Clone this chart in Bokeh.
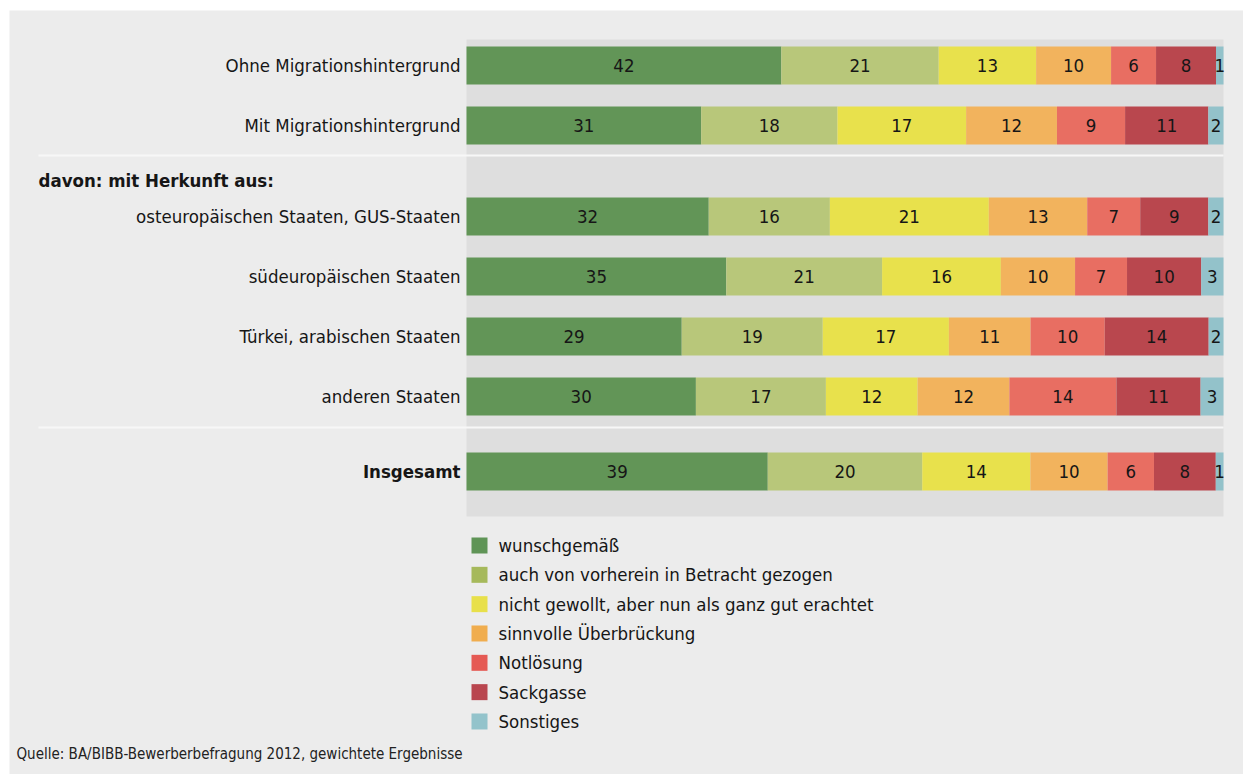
from bokeh.plotting import figure
from bokeh.models import Range1d, ColumnDataSource
from bokeh.core.properties import value
from bokeh.embed import file_html
from bokeh.resources import INLINE

# ---------------- data ----------------
groups = ["Ohne Migrationshintergrund", "Mit Migrationshintergrund",
          "osteuropäischen Staaten, GUS-Staaten", "südeuropäischen Staaten",
          "Türkei, arabischen Staaten", "anderen Staaten", "Insgesamt"]
categories = ["wunschgemäß", "auch von vorherein in Betracht gezogen",
              "nicht gewollt, aber nun als ganz gut erachtet",
              "sinnvolle Überbrückung", "Notlösung", "Sackgasse", "Sonstiges"]
wunschgemaess = [42, 31, 32, 35, 29, 30, 39]
auch_vorher   = [21, 18, 16, 21, 19, 17, 20]
nicht_gewollt = [13, 17, 21, 16, 17, 12, 14]
ueberbrueckung = [10, 12, 13, 10, 11, 12, 10]
notloesung    = [6, 9, 7, 7, 10, 14, 6]
sackgasse     = [8, 11, 9, 10, 14, 11, 8]
sonstiges     = [1, 2, 2, 3, 2, 3, 1]
series = [wunschgemaess, auch_vorher, nicht_gewollt, ueberbrueckung,
          notloesung, sackgasse, sonstiges]

bar_colors = ["#629557", "#b8c77a", "#e8e14c", "#f2b35d", "#e86e62", "#b9474e", "#93c2ca"]
legend_colors = ["#5f9456", "#a6b95b", "#e8e04a", "#f0ad4e", "#e55a54", "#b9464f", "#93c3cb"]

header_text = "davon: mit Herkunft aus:"
source_text = "Quelle: BA/BIBB-Bewerberbefragung 2012, gewichtete Ergebnisse"

# ---------------- layout (page pixels) ----------------
W, H = 1243, 774
PLOT_L, PLOT_R, PLOT_T, PLOT_B = 466, 1223, 39, 516
PX = (PLOT_R - PLOT_L) / 100.0
row_y = [65, 125, 216, 276, 336, 396, 471]
bold_rows = {"Insgesamt"}
BAR_H = 38
FONT = "DejaVu Sans Condensed"
FS = "18.5px"
TXT = "#161616"

p = figure(width=W, height=H, output_backend="svg", toolbar_location=None,
           x_range=Range1d((0 - PLOT_L) / PX, (W - PLOT_L) / PX),
           y_range=Range1d(H, 0),
           min_border=0, min_border_left=0, min_border_right=0,
           min_border_top=0, min_border_bottom=0)
p.extra_x_ranges = {"px": Range1d(0, W)}
p.xaxis.visible = False
p.yaxis.visible = False
p.grid.visible = False
p.outline_line_color = None
p.background_fill_color = "white"
p.border_fill_color = "white"

# panel background
p.quad(left=[9], right=[W], top=[10], bottom=[H], x_range_name="px",
       fill_color="#ececec", line_color=None)
# plot area background
p.quad(left=[0], right=[100], top=[PLOT_T], bottom=[PLOT_B],
       fill_color="#dedede", line_color=None)

# separators
for sy in [155, 427]:
    p.segment(x0=[38], x1=[PLOT_R], y0=[sy], y1=[sy], x_range_name="px",
              line_color="#f7f7f7", line_width=2)

# bars (normalised to 100 %)
totals = [sum(s[i] for s in series) for i in range(len(groups))]
left = [0.0] * len(groups)
for k, s in enumerate(series):
    widths = [s[i] / totals[i] * 100 for i in range(len(groups))]
    right = [left[i] + widths[i] for i in range(len(groups))]
    src = ColumnDataSource(dict(y=row_y, left=left, right=right,
                                mid=[(left[i] + right[i]) / 2 for i in range(len(groups))],
                                lab=[str(v) for v in s]))
    p.hbar(y="y", left="left", right="right", height=BAR_H, source=src,
           fill_color=bar_colors[k], line_color=None)
    p.text(x="mid", y="y", text="lab", source=src, text_align="center",
           text_baseline="middle", text_font=value(FONT), text_font_size=FS,
           text_color=TXT)
    left = right

# group labels
for g, y in zip(groups, row_y):
    p.text(x=[PLOT_L - 6], y=[y], text=[g], x_range_name="px",
           text_align="right", text_baseline="middle", text_font=value(FONT),
           text_font_size=FS, text_color=TXT,
           text_font_style="bold" if g in bold_rows else "normal")
p.text(x=[38], y=[180], text=[header_text], x_range_name="px",
       text_align="left", text_baseline="middle", text_font=value(FONT),
       text_font_size=FS, text_font_style="bold", text_color=TXT)

# legend
leg_y = [545 + i * 29.33 for i in range(len(categories))]
p.rect(x=[479] * len(categories), y=leg_y, width=16, height=16,
       x_range_name="px", fill_color=legend_colors, line_color=None)
p.text(x=[498] * len(categories), y=leg_y, text=categories, x_range_name="px",
       text_align="left", text_baseline="middle", text_font=value(FONT),
       text_font_size=FS, text_color=TXT)

# source
p.text(x=[16], y=[753], text=[source_text], x_range_name="px",
       text_align="left", text_baseline="middle", text_font=value(FONT),
       text_font_size="15px", text_color="#222222")

open("out.html", "w").write(file_html(p, INLINE))
